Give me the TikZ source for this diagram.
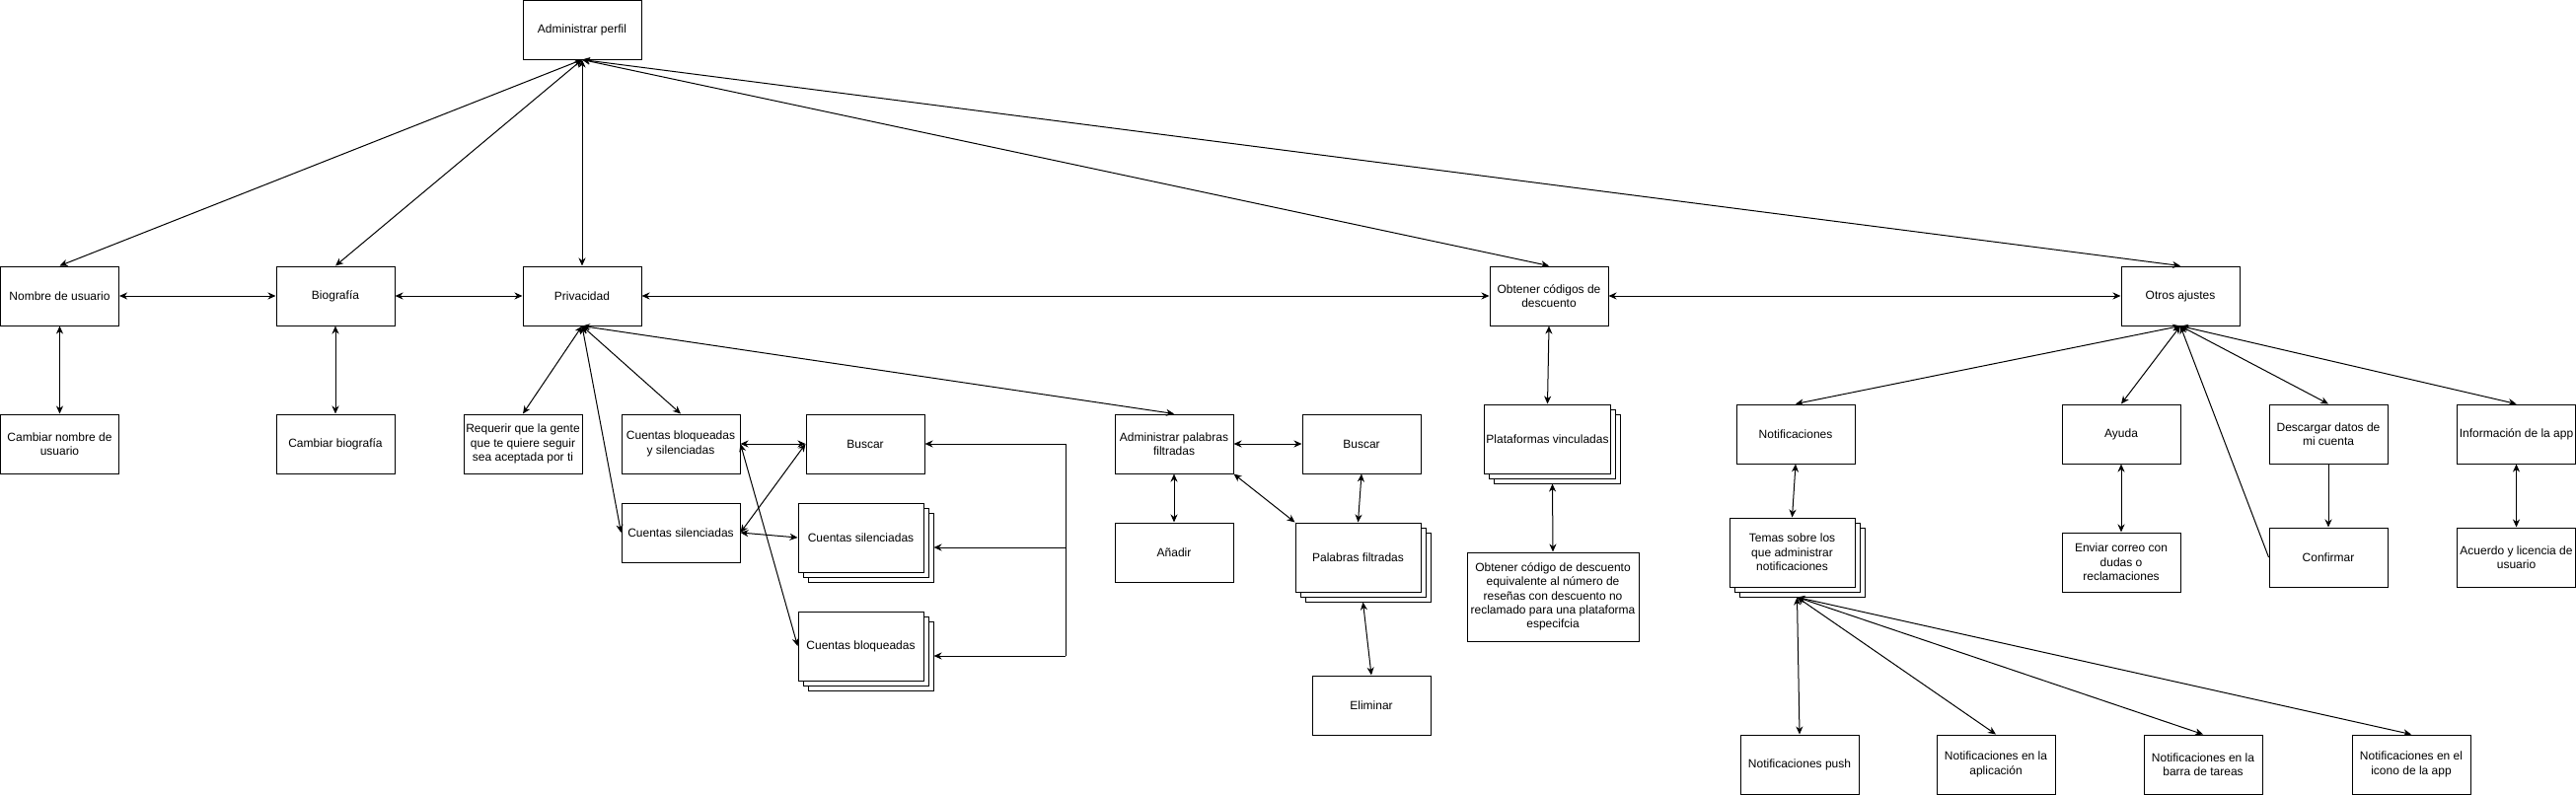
\documentclass[tikz,border=0pt]{standalone}
\usepackage{fontspec}
\setmainfont{Liberation Sans}
\usetikzlibrary{arrows.meta,shadows,fit}
\begin{document}
\begin{tikzpicture}[x=1pt,y=-1pt,
  >={Stealth[length=8pt,width=7pt,inset=2.5pt]},
  line width=1pt,
  box/.style={draw=black, fill=white, line width=1pt, minimum width=120, minimum height=60,
    inner sep=2pt, align=center, font=\fontsize{12}{14.4}\selectfont},
  stackf/.style={box, minimum width=127, minimum height=70,
    copy shadow={shadow xshift=10pt, shadow yshift=-10pt, draw=black, fill=white, opacity=1},
    copy shadow={shadow xshift=5pt, shadow yshift=-5pt, draw=black, fill=white, opacity=1}},
  bbox/.style={inner sep=0pt, outer sep=0pt},
  conn/.style={<->},
  one/.style={->}]
\useasboundingbox (0,0) rectangle (2611,806);
\fill[white] (0,0) rectangle (2611,806);

% top level
\node[box] (ap) at (590,30) {Administrar perfil};
\node[box] (nombre) at (60.5,300) {Nombre de usuario};
\node[box] (bio) at (340,300) {Biografía};
\node[box] (priv) at (590,300) {Privacidad};
\node[box] (obtc) at (1570,300) {Obtener códigos de\\descuento};
\node[box] (otros) at (2210,300) {Otros ajustes};

% left branch
\node[box] (cnombre) at (60.5,450) {Cambiar nombre de\\usuario};
\node[box] (cbio) at (340,450) {Cambiar biografía};
\node[box] (req) at (530,450) {Requerir que la gente\\que te quiere seguir\\sea aceptada por ti};
\node[box] (cbs) at (690,450) {Cuentas bloqueadas\\y silenciadas};
\node[box] (csil) at (690,540) {Cuentas silenciadas};
\node[box] (busc1) at (877,450) {Buscar};
\node[stackf] (csf) at (872.5,545) {Cuentas silenciadas};
\coordinate (cs-se) at ([shift={(10,10)}]csf.south east);
\node[bbox, fit=(csf) (cs-se)] (cs) {};
\node[stackf] (cbf) at (872.5,655) {Cuentas bloqueadas};
\coordinate (cb-se) at ([shift={(10,10)}]cbf.south east);
\node[bbox, fit=(cbf) (cb-se)] (cb) {};

% filtered words
\node[box] (apf) at (1190,450) {Administrar palabras\\filtradas};
\node[box] (busc2) at (1380,450) {Buscar};
\node[box] (anadir) at (1190,560) {Añadir};
\node[stackf] (pff) at (1376.5,565) {Palabras filtradas};
\coordinate (pf-se) at ([shift={(10,10)}]pff.south east);
\node[bbox, fit=(pff) (pf-se)] (pf) {};
\node[box] (elim) at (1390,715) {Eliminar};

% discount codes
\node[stackf] (platf) at (1568.5,445) {Plataformas vinculadas};
\coordinate (plat-se) at ([shift={(10,10)}]platf.south east);
\node[bbox, fit=(platf) (plat-se)] (plat) {};
\node[box, minimum width=174, minimum height=90] (obt2) at (1574,605)
  {Obtener código de descuento\\equivalente al número de\\reseñas con descuento no\\reclamado para una plataforma\\especifcia};

% other settings
\node[box] (notif) at (1820,440) {Notificaciones};
\node[box] (ayuda) at (2150,440) {Ayuda};
\node[box] (desc) at (2360,440) {Descargar datos de\\mi cuenta};
\node[box] (info) at (2550.5,440) {Información de la app};
\node[stackf] (temasf) at (1816.5,560) {Temas sobre los\\que administrar\\notificaciones};
\coordinate (temas-se) at ([shift={(10,10)}]temasf.south east);
\node[bbox, fit=(temasf) (temas-se)] (temas) {};
\node[box] (enviar) at (2150,570) {Enviar correo con\\dudas o\\reclamaciones};
\node[box] (confirmar) at (2360,565) {Confirmar};
\node[box] (acuerdo) at (2550.5,565) {Acuerdo y licencia de\\usuario};
\node[box] (npush) at (1824,775) {Notificaciones push};
\node[box] (napp) at (2023,775) {Notificaciones en la\\aplicación};
\node[box] (nbarra) at (2233,775) {Notificaciones en la\\barra de tareas};
\node[box] (nicono) at (2444,775) {Notificaciones en el\\icono de la app};

% connectors: top level
\draw[conn] (ap.south) -- (nombre.north);
\draw[conn] (ap.south) -- (bio.north);
\draw[conn] (ap.south) -- (priv.north);
\draw[conn] (ap.south) -- (obtc.north);
\draw[conn] (ap.south) -- (otros.north);
\draw[conn] (nombre.east) -- (bio.west);
\draw[conn] (bio.east) -- (priv.west);
\draw[conn] (priv.east) -- (obtc.west);
\draw[conn] (obtc.east) -- (otros.west);
\draw[conn] (nombre.south) -- (cnombre.north);
\draw[conn] (bio.south) -- (cbio.north);

% privacy
\draw[conn] (priv.south) -- (req.north);
\draw[conn] (priv.south) -- (cbs.north);
\draw[conn] (priv.south) -- (csil.west);
\draw[conn] (priv.south) -- (apf.north);
\draw[conn] (cbs.east) -- (busc1.west);
\draw[conn] (cbs.east) -- (cbf.west);
\draw[conn] (csil.east) -- (busc1.west);
\draw[conn] (csil.east) -- (csf.west);
\coordinate (jtop) at (1080,450);
\coordinate (jmid) at (1080,555);
\coordinate (jbot) at (1080,665);
\draw (jtop) -- (jbot);
\draw[one] (jtop) -- (busc1.east);
\draw[one] (jmid) -- (jmid -| cs.east);
\draw[one] (jbot) -- (jbot -| cb.east);

% filtered words
\draw[conn] (apf.east) -- (busc2.west);
\draw[conn] (apf.south) -- (anadir.north);
\draw[conn] (apf.south east) -- (pff.north west);
\draw[conn] (busc2.south) -- (pff.north);
\draw[conn] (pf.south) -- (elim.north);

% discount
\draw[conn] (obtc.south) -- (platf.north);
\draw[conn] (plat.south) -- (obt2.north);

% other settings
\draw[conn] (otros.south) -- (notif.north);
\draw[conn] (otros.south) -- (ayuda.north);
\draw[conn] (otros.south) -- (desc.north);
\draw[conn] (otros.south) -- (info.north);
\draw[one] (confirmar.west) -- (otros.south);
\draw[one] (desc.south) -- (confirmar.north);
\draw[conn] (notif.south) -- (temasf.north);
\draw[conn] (ayuda.south) -- (enviar.north);
\draw[conn] (info.south) -- (acuerdo.north);
\draw[conn] (temas.south) -- (npush.north);
\draw[conn] (temas.south) -- (napp.north);
\draw[conn] (temas.south) -- (nbarra.north);
\draw[conn] (temas.south) -- (nicono.north);
\end{tikzpicture}
\end{document}
